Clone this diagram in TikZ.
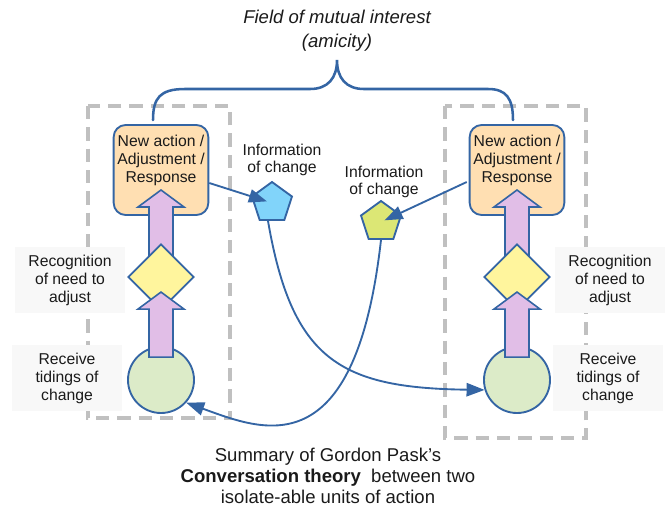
\documentclass[tikz,border=0pt]{standalone}
\usepackage{fontspec}
\setmainfont{Liberation Sans}
\usetikzlibrary{shapes.geometric,arrows.meta,calc}
\definecolor{bl}{HTML}{3465A4}
\definecolor{orfill}{HTML}{FFDFB2}
\definecolor{pufill}{HTML}{E1BEE7}
\definecolor{yefill}{HTML}{FFF59D}
\definecolor{grfill}{HTML}{DCEBC8}
\definecolor{bpfill}{HTML}{81D4FA}
\definecolor{gpfill}{HTML}{DCE775}
\definecolor{labgray}{HTML}{F8F8F8}
\definecolor{dashgray}{HTML}{C0C0C0}
\definecolor{txt}{HTML}{1A1A1A}
\begin{document}
\begin{tikzpicture}[x=0.75pt,y=-0.75pt,
  every node/.style={text=txt},
  actbox/.style={draw=bl, line width=1.4pt, fill=orfill, rounded corners=9pt,
    minimum width=71pt, minimum height=67.5pt, align=center, inner sep=0pt,
    text depth=17.5pt, font=\fontsize{11.8}{13.5}\selectfont},
  roundnode/.style={draw=bl, line width=1.4pt, fill=grfill, circle, minimum size=49.5pt, inner sep=0pt},
  dia/.style={draw=bl, line width=1.4pt, fill=yefill, diamond, minimum width=49.5pt, minimum height=49.5pt, inner sep=0pt},
  penta/.style={draw=bl, line width=1.4pt, regular polygon, regular polygon sides=5, minimum size=31.5pt, inner sep=0pt},
  lab/.style={fill=labgray, minimum width=82.5pt, minimum height=49.5pt, align=center, inner sep=0pt,
    font=\fontsize{11.8}{13.5}\selectfont},
  info/.style={align=center, inner sep=0pt, font=\fontsize{11.8}{12.75}\selectfont},
  dashbox/.style={draw=dashgray, line width=2.4pt, dash pattern=on 10pt off 6pt},
  fat/.style={draw=bl, line width=1.2pt, fill=pufill, line join=miter},
  conn/.style={draw=bl, line width=1.4pt, -{Triangle[length=13.5pt,width=10pt]}},
  bracestyle/.style={draw=bl, line width=1.9pt, line cap=round}]
\useasboundingbox (0,0) rectangle (665,508);

% dashed frames
\draw[dashbox] (88,106) rectangle (230,418);
\draw[dashbox] (445,106) rectangle (586,438);

% side labels
\node[lab] (lrec) at (70,280) {Recognition\\of need to\\adjust};
\node[lab] (lrcv) at (67,378) {Receive\\tidings of\\change};
\node[lab] (rrec) at (610,280) {Recognition\\of need to\\adjust};
\node[lab] (rrcv) at (608,378) {Receive\\tidings of\\change};

% brace
\draw[bracestyle] (153,120) .. controls (153,98) and (160,89) .. (185,89) -- (310,89)
  .. controls (328,89) and (337,78) .. (337,60)
  .. controls (337,78) and (346,89) .. (364,89) -- (488,89)
  .. controls (506,89) and (513,98) .. (513,120);

% left unit
\node[actbox] (lbox) at (161,170) {New action /\\Adjustment /\\Response};
\node[roundnode] (lc) at (161,380) {};
\draw[fat] ([shift={(-12,-15)}]161,277) -- ++(0,-55) -- ++(-11,0) -- ++(23,-17) -- ++(23,17) -- ++(-11,0) -- ++(0,55) -- cycle;
\node[dia] (ld) at (161,277) {};
\draw[fat] ([shift={(-12,11)}]lc.north) -- ++(0,-48) -- ++(-11,0) -- ++(23,-17) -- ++(23,17) -- ++(-11,0) -- ++(0,48) -- cycle;

% right unit
\node[actbox] (rbox) at (517,170) {New action /\\Adjustment /\\Response};
\node[roundnode] (rc) at (517,380) {};
\draw[fat] ([shift={(-12,-15)}]517,277) -- ++(0,-55) -- ++(-11,0) -- ++(23,-17) -- ++(23,17) -- ++(-11,0) -- ++(0,55) -- cycle;
\node[dia] (rd) at (517,277) {};
\draw[fat] ([shift={(-12,11)}]rc.north) -- ++(0,-48) -- ++(-11,0) -- ++(23,-17) -- ++(23,17) -- ++(-11,0) -- ++(0,48) -- cycle;

% information pentagons
\node[penta, fill=bpfill] (bp) at (272,203) {};
\node[penta, fill=gpfill] (gp) at (381,222) {};
\node[info] (bptxt) at (282,160) {Information\\of change};
\node[info] (gptxt) at (384,182) {Information\\of change};

% connectors
\draw[conn, shorten >=4pt] ([yshift=-9.75pt]lbox.east) -- (bp.center);
\draw[conn] ([xshift=-3pt]bp.south) .. controls (292,360) and (340,388) .. (rc.197);
\draw[conn, shorten >=3pt] ([yshift=-9pt,xshift=-1.5pt]rbox.west) -- (gp.center);
\draw[conn] (gp.south) .. controls (355,470) and (262,430) .. (lc.-42);

% titles
\node[align=center, inner sep=0pt, font=\fontsize{13.9}{18}\selectfont\itshape] (title) at (337,31)
  {Field of mutual interest\\(amicity)};
\node[align=center, inner sep=0pt, font=\fontsize{13.9}{15.5}\selectfont] (caption) at (328,476)
  {Summary of Gordon Pask’s\\\textbf{Conversation theory}\ \ between two\\isolate-able units of action};
\end{tikzpicture}
\end{document}
